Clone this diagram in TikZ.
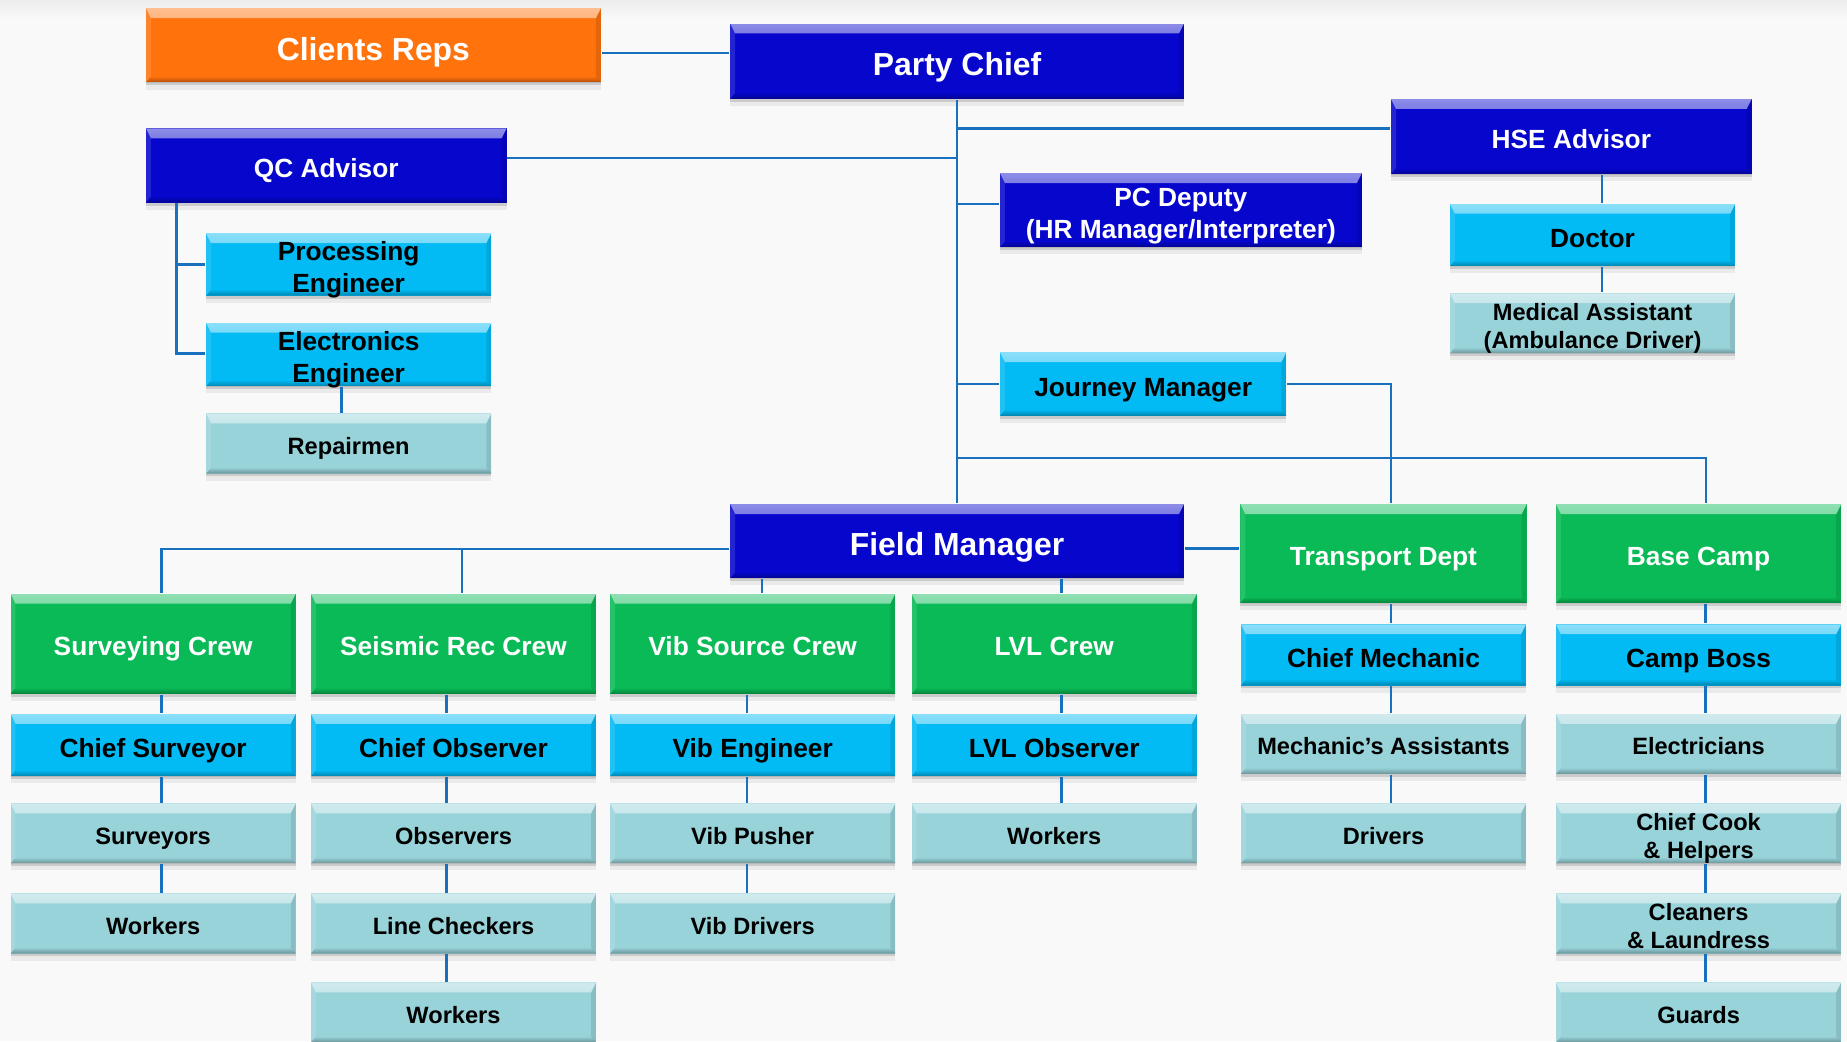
\documentclass[tikz,border=0pt]{standalone}
\usepackage{fontspec}
\setmainfont{Liberation Sans}
\usetikzlibrary{shadows,fadings}

\definecolor{clientorange}{RGB}{255,114,12}
\definecolor{chiefblue}{RGB}{6,6,204}
\definecolor{crewgreen}{RGB}{9,186,86}
\definecolor{leadcyan}{RGB}{2,186,244}
\definecolor{staffteal}{RGB}{152,211,218}
\definecolor{wireblue}{RGB}{24,112,190}
\definecolor{paper}{RGB}{249,249,249}

% first line of a two-line box sits a little lower
\newcommand{\liftline}{\rule{0pt}{1.15em}}

\tikzset{
  bevel/.style={path picture={
      \fill[white,fill opacity=.55,path fading=south] (path picture bounding box.north west) -- (path picture bounding box.north east)
        -- ([shift={(-1.2pt,-2.4pt)}]path picture bounding box.north east)
        -- ([shift={(1.2pt,-2.4pt)}]path picture bounding box.north west) -- cycle;
      \fill[black,fill opacity=.3,path fading=north] (path picture bounding box.south west) -- (path picture bounding box.south east)
        -- ([shift={(-1.2pt,1.5pt)}]path picture bounding box.south east)
        -- ([shift={(1.2pt,1.5pt)}]path picture bounding box.south west) -- cycle;
      \fill[black,opacity=.1] (path picture bounding box.north east) -- (path picture bounding box.south east)
        -- ([shift={(-1.2pt,1.5pt)}]path picture bounding box.south east)
        -- ([shift={(-1.2pt,-2.4pt)}]path picture bounding box.north east) -- cycle;
      \fill[white,opacity=.12] (path picture bounding box.north west) -- (path picture bounding box.south west)
        -- ([shift={(1.2pt,1.5pt)}]path picture bounding box.south west)
        -- ([shift={(1.2pt,-2.4pt)}]path picture bounding box.north west) -- cycle;
    }},
  box/.style={rectangle, inner sep=0pt, align=center, bevel,
    general shadow={shadow yshift=-0.7pt, fill=black, opacity=.13},
    general shadow={shadow yshift=-1.7pt, fill=black, opacity=.06},
    execute at begin node={\rule[-0.24em]{0pt}{1.4em}},
    execute at end node={\rule[-0.24em]{0pt}{0pt}}},
  twolines/.style={inner ysep=-3pt},
  big/.style={font=\bfseries\fontsize{7.7}{9}\selectfont},
  mid/.style={font=\bfseries\fontsize{6.35}{7.7}\selectfont},
  small/.style={font=\bfseries\fontsize{5.7}{6.8}\selectfont},
  boss/.style={box, fill=chiefblue, text=white},
  crew/.style={box, mid, fill=crewgreen, text=white, minimum width=2.42cm, minimum height=0.85cm},
  lead/.style={box, mid, fill=leadcyan, text=black, minimum width=2.42cm, minimum height=0.53cm},
  staff/.style={box, small, fill=staffteal, text=black, minimum width=2.42cm, minimum height=0.51cm},
  conn/.style={draw=wireblue, line width=0.6pt}
}

\begin{document}
\begin{tikzpicture}[x=0.01cm, y=-0.01cm]
  % page
  \fill[paper] (0,0) rectangle (1568,884);
  \shade[top color=black!7, bottom color=paper] (0,0) rectangle (1568,16);
  \useasboundingbox (0,0) rectangle (1568,884);

  % top of the tree
  \node[box, big, fill=clientorange, text=white, minimum width=3.86cm, minimum height=0.63cm] (clients) at (317,38.5) {Clients Reps};
  \node[boss, big, minimum width=3.85cm, minimum height=0.64cm] (party) at (812.5,52) {Party Chief};
  \node[boss, mid, minimum width=3.06cm, minimum height=0.64cm] (hse) at (1334,116) {HSE Advisor};
  \node[boss, mid, minimum width=3.06cm, minimum height=0.63cm] (qc) at (277,140.5) {QC Advisor};
  \node[boss, mid, twolines, minimum width=3.07cm, minimum height=0.63cm] (pcdep) at (1002.5,178.5) {\liftline PC Deputy\\(HR Manager/Interpreter)};
  \node[lead] (doctor) at (1352,199.5) {Doctor};
  \node[staff, twolines] (medic) at (1352,274.5) {\liftline Medical Assistant\\(Ambulance Driver)};
  \node[lead, twolines] (proc) at (296,224.5) {\liftline Processing\\Engineer};
  \node[lead, twolines, minimum height=0.54cm] (elec) at (296,301) {\liftline Electronics\\Engineer};
  \node[staff] (repair) at (296,376.5) {Repairmen};
  \node[lead, minimum width=2.43cm, minimum height=0.54cm] (journey) at (970.5,326) {Journey Manager};
  \node[boss, big, minimum width=3.85cm, minimum height=0.63cm] (field) at (812.5,459.5) {Field Manager};
  \node[crew, minimum width=2.43cm, minimum height=0.84cm] (trans0) at (1174.5,470) {Transport Dept};
  \node[crew, minimum height=0.84cm] (camp0) at (1442,470) {Base Camp};

  % field crews
  \foreach \cx/\lx/\id/\head/\chief in {130/137/surv/Surveying Crew/Chief Surveyor,
      385/379/seis/Seismic Rec Crew/Chief Observer,
      639/634/vib/Vib Source Crew/Vib Engineer,
      895/901/lvl/LVL Crew/LVL Observer}{
    \node[crew] (\id0) at (\cx,546.5) {\head};
    \node[lead] (\id1) at (\cx,632.5) {\chief};
    \draw[conn] (\id0.south -| \lx,0) -- (\id1.north -| \lx,0);
  }
  \node[staff] (surv2) at (130,707.5) {Surveyors};
  \node[staff] (surv3) at (130,784) {Workers};
  \node[staff] (seis2) at (385,707.5) {Observers};
  \node[staff] (seis3) at (385,784) {Line Checkers};
  \node[staff] (seis4) at (385,859.5) {Workers};
  \node[staff] (vib2) at (639,707.5) {Vib Pusher};
  \node[staff] (vib3) at (639,784) {Vib Drivers};
  \node[staff] (lvl2) at (895,707.5) {Workers};

  % transport and camp
  \node[lead, minimum height=0.52cm] (trans1) at (1174.5,556) {Chief Mechanic};
  \node[staff] (trans2) at (1174.5,631.5) {Mechanic’s Assistants};
  \node[staff] (trans3) at (1174.5,707.5) {Drivers};
  \node[lead, minimum height=0.52cm] (camp1) at (1442,556) {Camp Boss};
  \node[staff] (camp2) at (1442,631.5) {Electricians};
  \node[staff, twolines] (camp3) at (1442,707.5) {\liftline Chief Cook\\\& Helpers};
  \node[staff, twolines] (camp4) at (1442,784) {\liftline Cleaners\\\& Laundress};
  \node[staff] (camp5) at (1442,859.5) {Guards};

  \foreach \a/\b/\lx in {surv1/surv2/137, surv2/surv3/137, seis1/seis2/379, seis2/seis3/379,
      seis3/seis4/379, vib1/vib2/634, vib2/vib3/634, lvl1/lvl2/901,
      trans0/trans1/1181, trans1/trans2/1181, trans2/trans3/1181,
      camp0/camp1/1448, camp1/camp2/1448, camp2/camp3/1448, camp3/camp4/1448, camp4/camp5/1448}
    \draw[conn] (\a.south -| \lx,0) -- (\b.north -| \lx,0);

  % links
  \draw[conn] (clients.east |- 0,45) -- (party.west |- 0,45);
  \draw[conn] (party.south) -- (field.north);
  \draw[conn] (party.south |- 0,109) -- (hse.west |- 0,109);
  \draw[conn] (qc.east |- 0,134) -- (party.south |- 0,134);
  \draw[conn] (party.south |- 0,173) -- (pcdep.west |- 0,173);
  \draw[conn] (party.south |- journey.west) -- (journey.west);
  \draw[conn] (journey.east) -| ([xshift=0.065cm]trans0.north);
  \draw[conn] (party.south |- 0,389) -| ([xshift=0.065cm]camp0.north);
  \draw[conn] ([yshift=-0.06cm]field.east) -- ([yshift=-0.06cm]field.east -| trans0.west);
  \coordinate (fmw) at ([yshift=-0.065cm]field.west);
  \draw[conn] (fmw) -| ([xshift=0.07cm]surv0.north);
  \draw[conn] ([xshift=0.07cm]seis0.north) -- ([xshift=0.07cm]seis0.north |- fmw);
  \draw[conn] ([xshift=0.08cm]vib0.north) -- ([xshift=0.08cm]vib0.north |- field.south);
  \draw[conn] ([xshift=0.06cm]lvl0.north) -- ([xshift=0.06cm]lvl0.north |- field.south);
  \draw[conn] ([xshift=-1.27cm]qc.south) |- ([yshift=0.01cm]elec.west);
  \draw[conn] ([xshift=-1.27cm]qc.south |- proc.west) -- (proc.west);
  \draw[conn] ([xshift=-0.06cm]elec.south) -- ([xshift=-0.06cm]repair.north);
  \draw[conn] ([xshift=0.08cm]doctor.north |- hse.south) -- ([xshift=0.08cm]doctor.north);
  \draw[conn] ([xshift=0.08cm]doctor.south) -- ([xshift=0.08cm]medic.north);
\end{tikzpicture}
\end{document}
